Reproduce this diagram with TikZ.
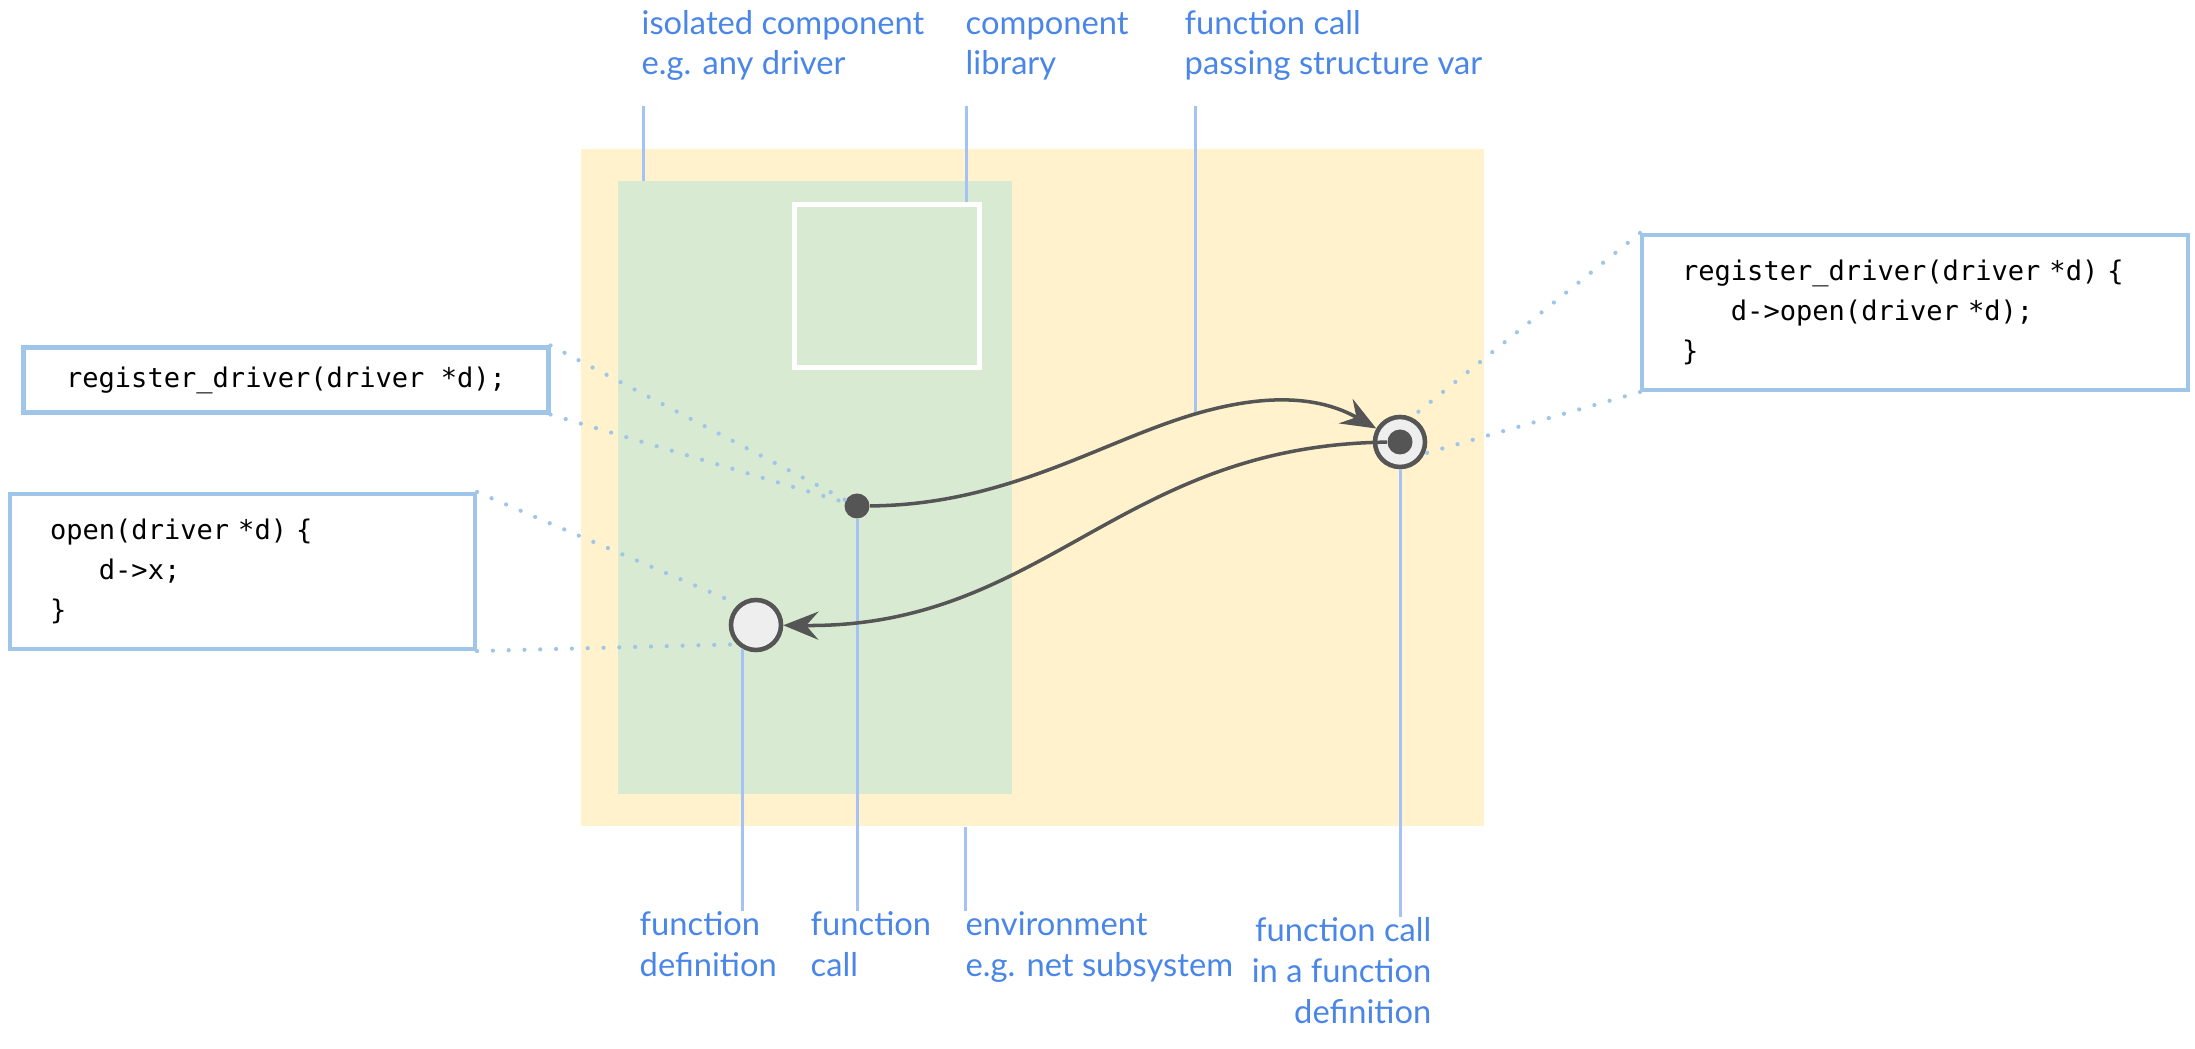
\documentclass[tikz,border=0pt]{standalone}
\usepackage{fontspec}
\setmainfont{Lato}
\setmonofont{DejaVu Sans Mono}
\usepackage{xcolor}
\usepackage{tikz}
\usetikzlibrary{arrows.meta,positioning,calc}

\definecolor{envyellow}{HTML}{FFF2CC}
\definecolor{compgreen}{HTML}{D9EAD3}
\definecolor{boxblue}{HTML}{9FC5E8}
\definecolor{tickblue}{HTML}{A4C2F4}
\definecolor{textblue}{HTML}{4A86E8}
\definecolor{darkline}{HTML}{555555}
\definecolor{ptfill}{HTML}{EEEEEE}

\begin{document}
\begin{tikzpicture}[
    lbl/.style={text=textblue, font=\fontsize{9.3}{11.6}\selectfont, inner sep=0pt},
    tick/.style={tickblue, line width=0.85pt},
    callout/.style={boxblue, line width=1.2pt, line cap=round, dash pattern=on 0pt off 4.5pt},
    codebox/.style={draw=boxblue, line width=1.15pt, fill=white, inner xsep=0.4cm, inner ysep=0pt,
        font=\fontsize{7.7}{11.4}\selectfont\ttfamily},
    flow/.style={darkline, line width=1pt, -{Stealth[length=10pt,width=8pt,inset=3.5pt]}},
    ring/.style={circle, draw=darkline, line width=1.3pt, fill=ptfill, minimum size=0.5cm, inner sep=0pt},
    pt/.style={circle, fill=darkline, minimum size=0.25cm, inner sep=0pt},
]
    \useasboundingbox (0,0) rectangle (21.95,10.48);

    \node[fill=envyellow, minimum width=9.03cm, minimum height=6.77cm, inner sep=0pt, anchor=south west] (env) at (5.80,2.21) {};
    \node[fill=compgreen, minimum width=3.94cm, minimum height=6.13cm, inner sep=0pt, anchor=south west] (comp) at (6.17,2.53) {};
    \node[draw=white, line width=1.3pt, minimum width=1.85cm, minimum height=1.63cm, inner sep=0pt, anchor=south west] (lib) at (7.92,6.78) {};

    \node[pt] (call) at (8.57,5.42) {};
    \node[ring] (def) at (7.56,4.23) {};
    \node[ring] (target) at (14.00,6.06) {};
    \node[pt] (tdot) at (target) {};

    \node[codebox, minimum width=5.25cm, minimum height=0.65cm] (callbox) at (2.86,6.68) {register\_driver(driver *d);};
    \node[codebox, anchor=north west, text width=3.85cm, minimum height=1.55cm, align=left] (defbox) at (0.08,5.56)
        {open(driver *d) \{\\\phantom{xxx}d->x;\\\}};
    \node[codebox, anchor=north west, text width=4.66cm, minimum height=1.55cm, align=left] (regbox) at (16.40,8.15)
        {register\_driver(driver *d) \{\\\phantom{xxx}d->open(driver *d);\\\}};

    \node[lbl, anchor=base west, align=left] (iso) at (6.41,9.73) {isolated component\\e.g. any driver};
    \node[lbl, anchor=base west, align=left] (libl) at (9.65,9.73) {component\\library};
    \node[lbl, anchor=base west, align=left] (passl) at (11.84,9.73) {function call\\passing structure var};
    \node[lbl, anchor=base west, align=left] (fdef) at (6.39,0.72) {function\\definition};
    \node[lbl, anchor=base west, align=left] (fcall) at (8.10,0.72) {function\\call};
    \node[lbl, anchor=base west, align=left] (envl) at (9.65,0.72) {environment\\e.g. net subsystem};
    \node[lbl, anchor=base east, align=right] (nestl) at (14.32,0.25) {function call\\in a function\\definition};

    \draw[callout] (callbox.north east) -- (call);
    \draw[callout] (callbox.south east) -- (call);
    \draw[callout] (defbox.north east) -- (def.130);
    \draw[callout] (defbox.south east) -- (def.225);
    \draw[callout] (regbox.north west) -- (target.65);
    \draw[callout] (regbox.south west) -- (target.-25);

    \coordinate (pass) at (11.95,6.34);
    \coordinate (isotip) at (6.43,9.42);
    \coordinate (libtip) at (9.66,9.42);
    \coordinate (passtip) at (11.95,9.42);
    \draw[tick] (isotip) -- (isotip |- comp.north);
    \draw[tick] (libtip) -- (libtip |- lib.north);
    \draw[tick] (passtip) -- (pass);
    \draw[tick] (def.240) -- (def.240 |- fdef.north);
    \draw[tick] (call.south) -- (call.south |- fcall.north);
    \draw[tick] (envl.north west |- env.south) -- (envl.north west);
    \draw[tick] (target.south) -- (target.south |- nestl.north);

    \draw[flow] (call) .. controls (10.06,5.43) and (11.00,6.06) .. (pass)
        .. controls (12.53,6.51) and (13.12,6.56) .. (target);
    \draw[flow] (tdot) .. controls (11.19,6.03) and (10.44,4.20) .. (def);
\end{tikzpicture}
\end{document}
